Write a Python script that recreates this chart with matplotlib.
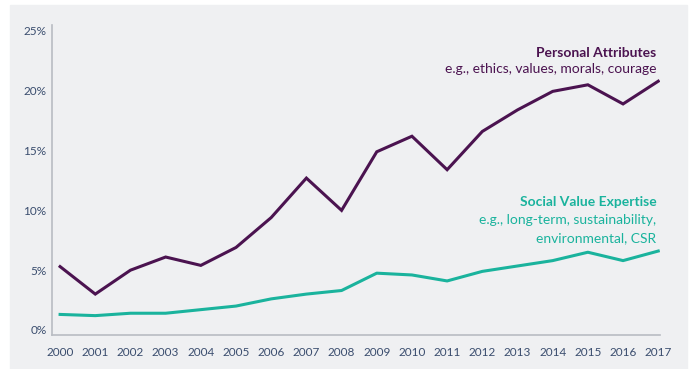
import matplotlib.pyplot as plt
from matplotlib.patches import Rectangle

years = list(range(2000, 2018))
personal = [5.3, 3.0, 5.0, 6.1, 5.4, 6.9, 9.4, 12.7, 10.0, 14.9, 16.2, 13.4,
            16.6, 18.4, 19.95, 20.5, 18.9, 20.8]
social = [1.3, 1.2, 1.4, 1.4, 1.7, 2.0, 2.6, 3.0, 3.3, 4.75, 4.6, 4.1,
          4.9, 5.35, 5.8, 6.5, 5.8, 6.6]
yticks = [0, 5, 10, 15, 20, 25]

purple = '#4b1350'
teal = '#1ab39d'
tick_col = '#3a4d6e'
bg = '#eff0f2'

plt.rcParams['font.family'] = ['Lato', 'DejaVu Sans']

fig = plt.figure(figsize=(7, 3.69), dpi=100)
# grey panel behind the chart
fig.patches.append(Rectangle((10 / 700, 0), 677 / 700, 364 / 369,
                             transform=fig.transFigure, color=bg, zorder=-10))

# axes box: x 52..660 px, y 25..335 px (from top)
ax = fig.add_axes([52 / 700, (369 - 335) / 369, 608 / 700, 310 / 369])
ax.set_facecolor('none')
ax.set_zorder(5)

ax.plot(years, personal, color=purple, lw=2.2, solid_joinstyle='miter')
ax.plot(years, social, color=teal, lw=2.2)

ax.set_xlim(1999.77, 2017.05)
ax.set_ylim(-0.42, 25.5)
ax.set_xticks(years)
ax.set_xticklabels([str(y) for y in years])
ax.set_yticks(yticks)
ax.set_yticklabels([f'{v}%' for v in yticks])
ax.tick_params(length=0, labelsize=8.5, colors=tick_col)
ax.tick_params(axis='x', pad=9)
ax.tick_params(axis='y', pad=4)

for s in ['top', 'right']:
    ax.spines[s].set_visible(False)
for s in ['left', 'bottom']:
    ax.spines[s].set_color('#b8bcc2')
    ax.spines[s].set_linewidth(1.2)

ax.text(2016.95, 23.2, 'Personal Attributes', color=purple, fontsize=10,
        fontweight='bold', ha='right', va='center')
ax.text(2016.95, 21.8, 'e.g., ethics, values, morals, courage', color=purple,
        fontsize=10, ha='right', va='center')

ax.text(2016.95, 10.7, 'Social Value Expertise', color=teal, fontsize=10,
        fontweight='bold', ha='right', va='center')
ax.text(2016.95, 9.2, 'e.g., long-term, sustainability,', color=teal,
        fontsize=10, ha='right', va='center')
ax.text(2016.95, 7.7, 'environmental, CSR', color=teal,
        fontsize=10, ha='right', va='center')

fig.savefig('out.png', dpi=100)
